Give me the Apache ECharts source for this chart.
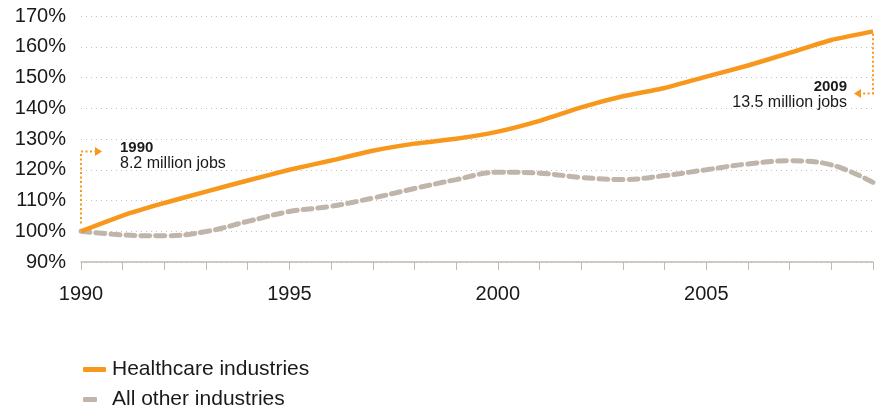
<!DOCTYPE html>
<html><head><meta charset="utf-8">
<script src="https://cdn.jsdelivr.net/npm/echarts@6/dist/echarts.min.js"></script>
<style>html,body{margin:0;padding:0;background:#fff}#c{width:877px;height:412px}</style>
</head><body><div id="c"></div>
<script>
const years = ['1990','1991','1992','1993','1994','1995','1996','1997','1998','1999','2000','2001','2002','2003','2004','2005','2006','2007','2008','2009'];
const healthcare = [100,105.1,109.2,112.9,116.5,120,123,126.2,128.5,130.1,132.4,135.9,140.3,143.9,146.6,150.3,153.9,158.0,162.2,165];
const others = [100,98.8,98.5,99.9,103.2,106.4,108.1,110.8,113.9,116.8,119.2,118.9,117.5,116.8,118.1,120.0,121.9,122.9,121.6,115.9];
const seriesNames = ['Healthcare industries','All other industries'];
const annotations = [
  {year:'1990', title:'1990', text:'8.2 million jobs'},
  {year:'2009', title:'2009', text:'13.5 million jobs'}
];
const ORANGE = '#f7981d', GRAY = '#bfb5aa', FONT = '"Liberation Sans", Arial, Helvetica, sans-serif';
const chart = echarts.init(document.getElementById('c'));
chart.setOption({
  animation:false,
  textStyle:{fontFamily:FONT},
  grid:{left:81, right:4, top:16, bottom:150, containLabel:false},
  xAxis:{type:'category', data:years, boundaryGap:false,
    axisLine:{lineStyle:{color:'#c2b9af', width:1.5}},
    axisTick:{interval:0, length:8, lineStyle:{color:'#c2b9af'}},
    axisLabel:{interval:4, color:'#1a1a1a', fontSize:20, margin:22, fontFamily:FONT},
    splitLine:{show:false}},
  yAxis:{type:'value', min:90, max:170, interval:10,
    axisLine:{show:false}, axisTick:{show:false},
    axisLabel:{formatter:'{value}%', color:'#1a1a1a', fontSize:20, margin:15, fontFamily:FONT},
    splitLine:{lineStyle:{color:'#c9c2ba', type:[1,4], width:1}}},
  legend:[
    {left:78, top:354, itemWidth:23, itemHeight:5, icon:'roundRect',
      textStyle:{fontSize:21, color:'#1a1a1a', fontFamily:FONT, padding:[0,0,0,1]},
      data:[seriesNames[0]]},
    {left:78, top:384, itemWidth:14, itemHeight:5, icon:'roundRect',
      textStyle:{fontSize:21, color:'#1a1a1a', fontFamily:FONT, padding:[0,0,0,10]},
      data:[seriesNames[1]]}
  ],
  series:[
    {name:seriesNames[1], type:'line', data:others, smooth:0.4, symbol:'none', z:2,
      lineStyle:{color:GRAY, width:5, type:[9,6], cap:'round'}, itemStyle:{color:GRAY}},
    {name:seriesNames[0], type:'line', data:healthcare, smooth:0.15, symbol:'none', z:3,
      lineStyle:{color:ORANGE, width:4.5}, itemStyle:{color:ORANGE}}
  ]
});
function px(year, v){ return chart.convertToPixel({gridIndex:0}, [year, v]); }
const a0 = px(annotations[0].year, 102.5), a0t = px(annotations[0].year, 125.9);
const b0 = px(annotations[1].year, 164.2), b0t = px(annotations[1].year, 144.8);
const dash = {stroke:ORANGE, lineWidth:2, lineDash:[2,2.5]};
chart.setOption({graphic:[
  {type:'polyline', shape:{points:[[a0[0],a0[1]],[a0t[0],a0t[1]],[a0t[0]+14,a0t[1]]]}, style:dash, z:10},
  {type:'polygon', shape:{points:[[a0t[0]+14,a0t[1]-4.5],[a0t[0]+21,a0t[1]],[a0t[0]+14,a0t[1]+4.5]]}, style:{fill:ORANGE}, z:10},
  {type:'text', x:a0t[0]+39, y:a0t[1]-4, style:{text:annotations[0].title, font:'bold 15px '+FONT, fill:'#1a1a1a', verticalAlign:'middle'}},
  {type:'text', x:a0t[0]+39, y:a0t[1]+12, style:{text:annotations[0].text, font:'16px '+FONT, fill:'#1a1a1a', verticalAlign:'middle'}},
  {type:'polyline', shape:{points:[[b0[0],b0[1]],[b0t[0],b0t[1]],[b0t[0]-12,b0t[1]]]}, style:dash, z:10},
  {type:'polygon', shape:{points:[[b0t[0]-12,b0t[1]-4.5],[b0t[0]-19,b0t[1]],[b0t[0]-12,b0t[1]+4.5]]}, style:{fill:ORANGE}, z:10},
  {type:'text', x:b0t[0]-26, y:b0t[1]-7, style:{text:annotations[1].title, font:'bold 15px '+FONT, fill:'#1a1a1a', align:'right', verticalAlign:'middle'}},
  {type:'text', x:b0t[0]-26, y:b0t[1]+9, style:{text:annotations[1].text, font:'16px '+FONT, fill:'#1a1a1a', align:'right', verticalAlign:'middle'}}
]});
</script></body></html>
